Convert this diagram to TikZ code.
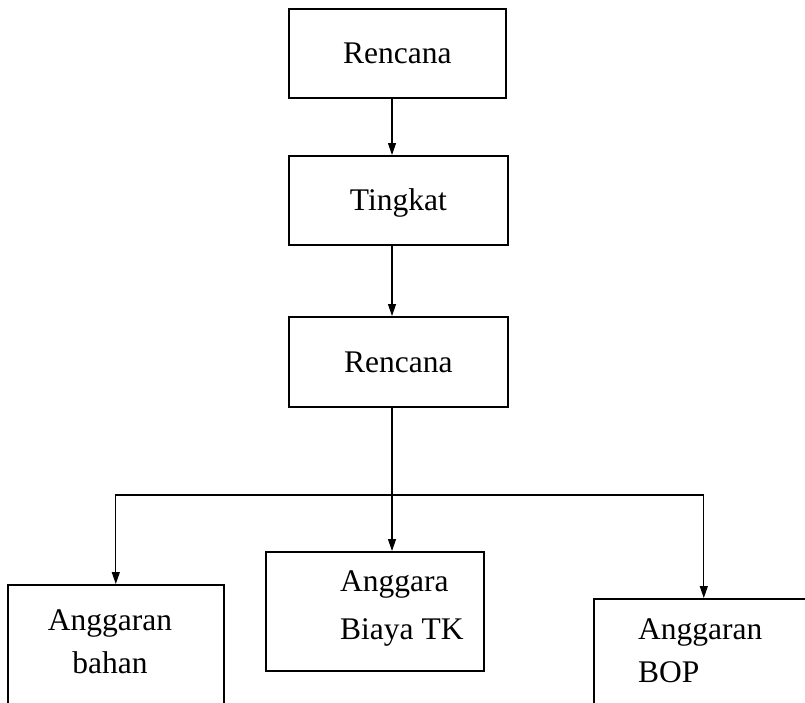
\documentclass[tikz,border=0pt]{standalone}
\usepackage{fontspec}
\setmainfont{Liberation Serif}
\usetikzlibrary{arrows.meta, positioning}

\begin{document}
\begin{tikzpicture}[x=1pt, y=-1pt,
		box/.style={draw, line width=1.6pt, anchor=north west, inner sep=0pt},
		txt/.style={inner sep=0pt, font=\fontsize{31.5}{43}\selectfont},
		topbox/.style={box, txt, minimum width=219pt, minimum height=89pt,
			text height=21pt, text depth=0pt},
		arrow/.style={-{Triangle[length=12pt, width=8pt]}, line width=1.2pt}
	]
		\clip (0,0) rectangle (805,702);

		\node[topbox, minimum width=217pt] (rencana1) at (288,8) {Rencana};
		\node[topbox] (tingkat) at (288,155) {Tingkat};
		\node[topbox, minimum height=90pt] (rencana2) at (288,316) {Rencana};

		\node[box, minimum width=216pt, minimum height=140pt] (bahan) at (7,584) {};
		\node[box, minimum width=218pt, minimum height=119pt] (biayatk) at (265,551) {};
		\node[box, minimum width=220pt, minimum height=130pt] (bop) at (593,598) {};

		\node[txt, align=center, anchor=north] (bahan-t) at (110,609) {Anggaran\\bahan};
		\node[txt, align=left, anchor=north west, font=\fontsize{31.5}{48}\selectfont] (biayatk-t) at (340,570) {Anggara\\Biaya TK};
		\node[txt, align=left, anchor=north west] (bop-t) at (638,618) {Anggaran\\BOP};

		\coordinate (split) at (392,495);
		\draw[arrow] (rencana1.south -| split) -- (tingkat.north -| split);
		\draw[arrow] (tingkat.south -| split) -- (rencana2.north -| split);
		\draw[line width=1.2pt] (rencana2.south -| split) -- (split);
		\draw[arrow] (split) -| (bahan.north);
		\draw[arrow] (split) -- (split |- biayatk.north);
		\draw[arrow] (split) -| (bop.north);
	\end{tikzpicture}
\end{document}
